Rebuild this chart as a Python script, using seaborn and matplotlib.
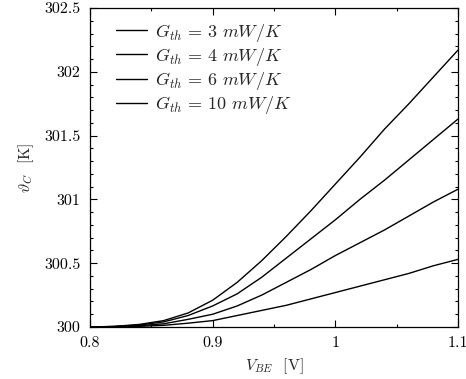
import numpy as np
import pandas as pd
import matplotlib
matplotlib.use("Agg")
import matplotlib.pyplot as plt
from matplotlib.ticker import MultipleLocator, FuncFormatter
import seaborn as sns

# Junction temperature vs. base-emitter voltage for several thermal conductances
v_be = [0.80, 0.82, 0.84, 0.86, 0.88, 0.90, 0.92, 0.94, 0.96, 0.98,
        1.00, 1.02, 1.04, 1.06, 1.08, 1.10]

temp_g3 = [300.00, 300.005, 300.02, 300.05, 300.11, 300.21, 300.35, 300.52,
           300.71, 300.91, 301.12, 301.33, 301.55, 301.75, 301.96, 302.17]
temp_g4 = [300.00, 300.004, 300.015, 300.04, 300.09, 300.165, 300.26, 300.39,
           300.54, 300.69, 300.84, 301.00, 301.15, 301.31, 301.47, 301.63]
temp_g6 = [300.00, 300.003, 300.01, 300.025, 300.06, 300.10, 300.165, 300.25,
           300.35, 300.45, 300.56, 300.66, 300.76, 300.87, 300.98, 301.08]
temp_g10 = [300.00, 300.001, 300.005, 300.013, 300.03, 300.05, 300.09, 300.13,
            300.17, 300.22, 300.27, 300.32, 300.37, 300.42, 300.48, 300.53]

labels = [r"$G_{th}\,=\,3\ mW/K$", r"$G_{th}\,=\,4\ mW/K$",
          r"$G_{th}\,=\,6\ mW/K$", r"$G_{th}\,=\,10\ mW/K$"]
series = [temp_g3, temp_g4, temp_g6, temp_g10]

df = pd.concat([pd.DataFrame({"V": v_be, "T": s, "G": lab})
                for s, lab in zip(series, labels)], ignore_index=True)

sns.set_style("ticks")
plt.rcParams["font.family"] = ["cmr10", "DejaVu Serif"]
plt.rcParams["mathtext.fontset"] = "cm"
plt.rcParams["axes.formatter.use_mathtext"] = True
plt.rcParams["font.size"] = 11

fig = plt.figure(figsize=(4.66, 3.79), dpi=100)
ax = fig.add_axes([90 / 466, 1 - 327 / 379, 368 / 466, 319 / 379])

sns.lineplot(data=df, x="V", y="T", hue="G", hue_order=labels,
             palette=["black"] * 4, linewidth=1.0, ax=ax)

ax.set_xlim(0.8, 1.1)
ax.set_ylim(300, 302.5)
ax.xaxis.set_major_locator(MultipleLocator(0.1))
ax.xaxis.set_minor_locator(MultipleLocator(0.05))
ax.yaxis.set_major_locator(MultipleLocator(0.5))
ax.yaxis.set_minor_locator(MultipleLocator(0.1))
ax.xaxis.set_major_formatter(FuncFormatter(lambda v, p: f"{v:g}"))
ax.yaxis.set_major_formatter(FuncFormatter(lambda v, p: f"{v:g}"))

ax.tick_params(which="both", direction="in", top=True, right=True,
               labelsize=11.5, width=0.8, colors="black")
ax.tick_params(which="major", length=5, pad=7)
ax.tick_params(which="minor", length=2.5)
for sp in ax.spines.values():
    sp.set_linewidth(0.9)
    sp.set_color("black")

ax.set_xlabel(r"$V_{BE}$  [V]", fontsize=11.5, labelpad=4)
ax.set_ylabel(r"$\vartheta_C$  [K]", fontsize=11.5, labelpad=6)

ax.legend(loc="upper left", bbox_to_anchor=(0.035, 1.0), frameon=False,
          fontsize=13, handlelength=1.7, handletextpad=0.45,
          labelspacing=0.12, borderaxespad=0.35)

fig.savefig("out.png", dpi=100)
